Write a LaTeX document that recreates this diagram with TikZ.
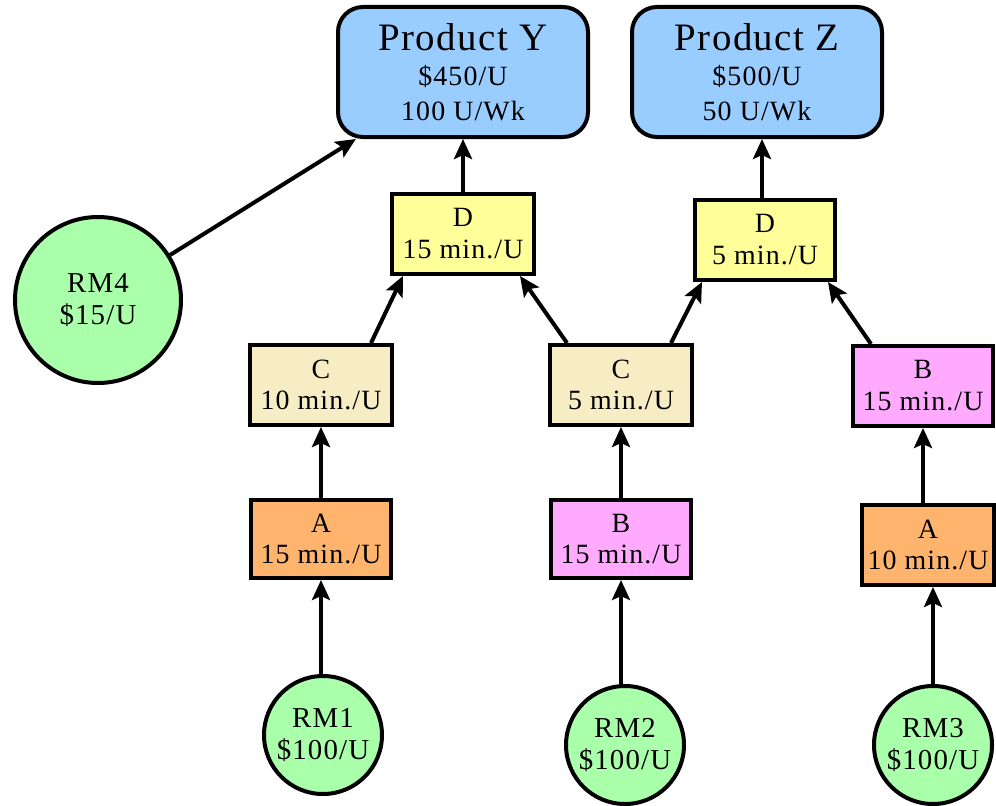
\documentclass[tikz,border=0pt]{standalone}
\usepackage{fontspec}
\setmainfont{Liberation Serif}[LetterSpace=4]
\usepackage{tikz}
\usetikzlibrary{arrows.meta}

\definecolor{prodblue}{RGB}{153,204,255}
\definecolor{taskD}{RGB}{255,255,153}
\definecolor{taskC}{RGB}{247,237,196}
\definecolor{taskA}{RGB}{255,180,110}
\definecolor{taskB}{RGB}{255,170,255}
\definecolor{rawgreen}{RGB}{170,255,170}

\begin{document}
\begin{tikzpicture}[x=1bp,y=-1bp,line width=4bp,
  >={Stealth[length=20bp,width=18bp,inset=4bp]},
  prod/.style={draw,rounded corners=25bp,fill=prodblue,minimum width=250bp,minimum height=130bp,
    align=center,inner sep=2bp,font=\fontsize{28}{35}\selectfont},
  task/.style={draw,minimum width=142bp,minimum height=80bp,align=center,inner sep=2bp,
    font=\fontsize{28}{32}\selectfont},
  rm/.style={draw,circle,fill=rawgreen,minimum size=118bp,align=center,inner sep=0pt,
    font=\fontsize{29}{32}\selectfont}]
\useasboundingbox (0,0) rectangle (996,806);

% products
\node[prod] (PY) at (463,72) {{\fontsize{39}{40}\selectfont Product Y}\\\$450/U\\100 U/Wk};
\node[prod] (PZ) at (757,72) {{\fontsize{39}{40}\selectfont Product Z}\\\$500/U\\50 U/Wk};

% steps
\node[task,fill=taskD] (DY) at (463,234) {D\\15 min./U};
\node[task,fill=taskD,minimum width=140bp] (DZ) at (765,240) {D\\5 min./U};
\node[task,fill=taskC] (CL) at (321,385) {C\\10 min./U};
\node[task,fill=taskC] (CM) at (621,385) {C\\5 min./U};
\node[task,fill=taskB,minimum width=140bp] (BR) at (923,386) {B\\15 min./U};
\node[task,fill=taskA,minimum width=140bp,minimum height=78bp] (AL) at (321,539) {A\\15 min./U};
\node[task,fill=taskB,minimum width=140bp,minimum height=78bp] (BM) at (621,539) {B\\15 min./U};
\node[task,fill=taskA,minimum width=132bp] (AR) at (928,545) {A\\10 min./U};

% raw materials
\node[rm,minimum size=166bp] (RM4) at (98,300) {RM4\\\$15/U};
\node[rm] (RM1) at (323,735) {RM1\\\$100/U};
\node[rm] (RM2) at (625,745) {RM2\\\$100/U};
\node[rm] (RM3) at (933,745) {RM3\\\$100/U};

% flows
\draw[->] (RM4) -- (PY);
\draw[->] (DY) -- (PY);
\draw[->] ([xshift=-3bp]DZ.north) -- ([xshift=-3bp]DZ.north |- PZ.south);
\draw[->] ([xshift=50bp]CL.north) -- ([xshift=-60bp]DY.south);
\draw[->] ([xshift=-54bp]CM.north) -- ([xshift=57bp]DY.south);
\draw[->] ([xshift=50bp]CM.north) -- ([xshift=-63bp]DZ.south);
\draw[->] ([xshift=-52bp]BR.north) -- ([xshift=63bp]DZ.south);
\draw[->] (AL) -- (CL);
\draw[->] (BM) -- (CM);
\draw[->] (AR.north -| BR) -- (BR);
\draw[->] (RM1.north -| AL) -- (AL);
\draw[->] (RM2.north -| BM) -- (BM);
\draw[->] (RM3) -- (RM3 |- AR.south);
\end{tikzpicture}
\end{document}
